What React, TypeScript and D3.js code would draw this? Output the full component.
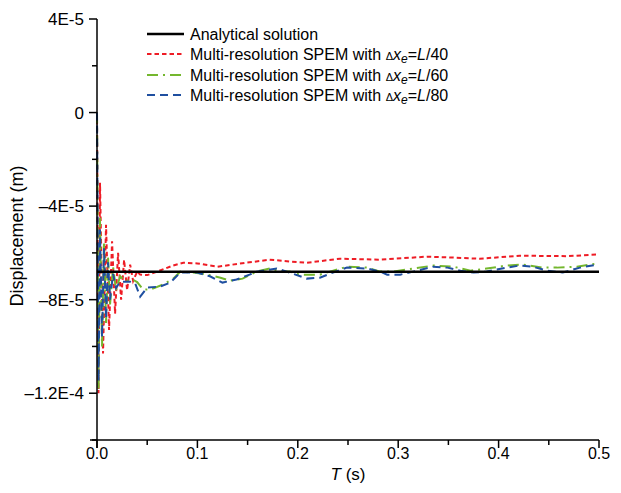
import React from "react";
import * as d3 from "d3";

// values in units of 1E-5 m, time in s
const analytical: [number, number][] = [
  [0, -6.81],
  [0.5, -6.81],
];

const spemL40: [number, number][] = [
  [0, 0], [0.0008, -6.5], [0.0015, -12.0], [0.003, -3.0], [0.006, -10.3], [0.009, -4.8],
  [0.012, -9.3], [0.015, -5.5], [0.018, -8.6], [0.021, -6.0], [0.024, -8.0], [0.027, -6.3],
  [0.03, -7.6], [0.033, -6.5], [0.036, -7.2], [0.04, -6.8], [0.043, -6.93], [0.05, -6.95],
  [0.06, -6.8], [0.075, -6.55], [0.086, -6.42], [0.1, -6.45], [0.12, -6.59], [0.142, -6.46],
  [0.172, -6.29], [0.192, -6.37], [0.209, -6.42], [0.242, -6.25], [0.282, -6.29], [0.329, -6.16],
  [0.355, -6.2], [0.381, -6.25], [0.421, -6.12], [0.468, -6.14], [0.498, -6.07],
];

const spemL60: [number, number][] = [
  [0, 0], [0.0008, -6], [0.0015, -11.8], [0.003, -4.5], [0.005, -10.0], [0.007, -5.5],
  [0.009, -9.0], [0.011, -6.2], [0.013, -8.2], [0.016, -6.6], [0.019, -7.6], [0.023, -7.0],
  [0.028, -7.2], [0.036, -7.15], [0.04, -7.25], [0.046, -7.57], [0.053, -7.57], [0.066, -7.35],
  [0.076, -7.1], [0.083, -6.8], [0.096, -6.84], [0.11, -6.93], [0.123, -7.06], [0.132, -7.19],
  [0.145, -7.1], [0.159, -6.8], [0.172, -6.67], [0.185, -6.8], [0.192, -6.8], [0.202, -6.93],
  [0.222, -6.93], [0.232, -6.8], [0.249, -6.59], [0.269, -6.63], [0.282, -6.8], [0.295, -6.8],
  [0.315, -6.67], [0.335, -6.54], [0.355, -6.59], [0.372, -6.76], [0.388, -6.67], [0.408, -6.54],
  [0.424, -6.5], [0.444, -6.63], [0.458, -6.63], [0.478, -6.59], [0.498, -6.46],
];

const spemL80: [number, number][] = [
  [0, 0], [0.0008, -6], [0.0015, -11.5], [0.003, -5], [0.005, -9.6], [0.007, -5.8],
  [0.009, -8.8], [0.011, -6.4], [0.013, -8.0], [0.016, -6.9], [0.019, -7.5], [0.023, -7.23],
  [0.033, -7.23], [0.038, -7.3], [0.043, -7.87], [0.05, -7.48], [0.063, -7.44], [0.073, -7.27],
  [0.083, -6.84], [0.1, -6.84], [0.113, -7.01], [0.125, -7.27], [0.139, -7.14], [0.152, -6.93],
  [0.159, -6.8], [0.179, -6.67], [0.189, -6.8], [0.195, -6.89], [0.209, -7.1], [0.222, -7.06],
  [0.235, -6.84], [0.249, -6.63], [0.269, -6.67], [0.282, -6.8], [0.289, -6.93], [0.302, -6.93],
  [0.315, -6.8], [0.335, -6.59], [0.349, -6.63], [0.362, -6.76], [0.375, -6.84], [0.388, -6.8],
  [0.408, -6.63], [0.421, -6.54], [0.434, -6.59], [0.448, -6.76], [0.464, -6.84], [0.481, -6.63],
  [0.498, -6.5],
];

const xMajorTicks = [0, 0.1, 0.2, 0.3, 0.4, 0.5];
const xTickLabels = ["0.0", "0.1", "0.2", "0.3", "0.4", "0.5"];
const xMinorTicks = [0.05, 0.15, 0.25, 0.35, 0.45];
const yMajorTicks = [4, 0, -4, -8, -12];
const yTickLabels = ["4E-5", "0", "\u20134E-5", "\u20138E-5", "\u20131.2E-4"];
const yMinorTicks = [2, -2, -6, -10, -14];
const legendSuffixes = ["40", "60", "80"];

const W = 621;
const H = 493;
const FONT = "'Liberation Sans', Arial, Helvetica, sans-serif";

export default function App() {
  const x = d3.scaleLinear().domain([0, 0.5]).range([97, 599]);
  const y = d3.scaleLinear().domain([-14, 4]).range([440, 19]);
  const line = d3
    .line<[number, number]>()
    .x((d) => x(d[0]))
    .y((d) => y(d[1]));

  const series = [
    { data: spemL40, color: "#ee1c25", dash: "4.5,3", width: 2 },
    { data: spemL60, color: "#74b72e", dash: "11,5,2,5", width: 2 },
    { data: spemL80, color: "#1f4fa0", dash: "8,5", width: 2 },
  ];

  const legX0 = 147;
  const legX1 = 184;
  const legTextX = 190;
  const legRows = [34, 54, 75, 95];

  return (
    <svg
      width={W}
      height={H}
      style={{ position: "absolute", left: 0, top: 0, background: "#fff" }}
      fontFamily={FONT}
    >
      <rect x={0} y={0} width={W} height={H} fill="#fff" />
      {series.map((s, i) => (
        <path
          key={i}
          d={line(s.data) || ""}
          fill="none"
          stroke={s.color}
          strokeWidth={s.width}
          strokeDasharray={s.dash}
        />
      ))}
      <path d={line(analytical) || ""} fill="none" stroke="#000" strokeWidth={2.5} />

      {/* axes */}
      <line x1={x(0)} x2={x(0)} y1={y(4)} y2={y(-14) + 8} stroke="#000" strokeWidth={1.5} />
      <line x1={x(0) - 7} x2={x(0.5)} y1={y(-14)} y2={y(-14)} stroke="#000" strokeWidth={1.5} />
      {yMajorTicks.map((t, i) => (
        <g key={"ym" + i}>
          <line x1={x(0) - 8} x2={x(0)} y1={y(t)} y2={y(t)} stroke="#000" strokeWidth={1.5} />
          <text
            x={x(0) - 13}
            y={y(t)}
            dy="0.36em"
            textAnchor="end"
            fontSize={17}
            fill="#000"
          >
            {yTickLabels[i]}
          </text>
        </g>
      ))}
      {yMinorTicks.map((t, i) => (
        <line key={"yn" + i} x1={x(0) - 5} x2={x(0)} y1={y(t)} y2={y(t)} stroke="#000" strokeWidth={1.5} />
      ))}
      {xMajorTicks.map((t, i) => (
        <g key={"xm" + i}>
          <line x1={x(t)} x2={x(t)} y1={y(-14)} y2={y(-14) + 8} stroke="#000" strokeWidth={1.5} />
          <text x={x(t)} y={459} textAnchor="middle" fontSize={16} fill="#000">
            {xTickLabels[i]}
          </text>
        </g>
      ))}
      {xMinorTicks.map((t, i) => (
        <line key={"xn" + i} x1={x(t)} x2={x(t)} y1={y(-14)} y2={y(-14) + 5} stroke="#000" strokeWidth={1.5} />
      ))}

      {/* axis titles */}
      <text x={348} y={480} textAnchor="middle" fontSize={17} fill="#000">
        <tspan fontStyle="italic">T</tspan> (s)
      </text>
      <text
        transform={`translate(23, 236) rotate(-90)`}
        textAnchor="middle"
        fontSize={18}
        fill="#000"
      >
        Displacement (m)
      </text>

      {/* legend */}
      <line x1={legX0} x2={legX1} y1={legRows[0]} y2={legRows[0]} stroke="#000" strokeWidth={2.5} />
      <text x={legTextX} y={legRows[0]} dy="0.35em" fontSize={16} fill="#000">
        Analytical solution
      </text>
      {series.map((s, i) => (
        <g key={"lg" + i}>
          <line
            x1={legX0}
            x2={legX1}
            y1={legRows[i + 1]}
            y2={legRows[i + 1]}
            stroke={s.color}
            strokeWidth={s.width}
            strokeDasharray={s.dash}
          />
          <text x={legTextX} y={legRows[i + 1]} dy="0.35em" fontSize={16} fill="#000">
            Multi-resolution SPEM with{" "}
            <tspan fontSize={11}>{"\u0394"}</tspan>
            <tspan fontStyle="italic">x</tspan>
            <tspan fontStyle="italic" fontSize={12} dy={3}>e</tspan>
            <tspan dy={-3}>=</tspan>
            <tspan fontStyle="italic">L</tspan>
            <tspan>/{legendSuffixes[i]}</tspan>
          </text>
        </g>
      ))}
    </svg>
  );
}
